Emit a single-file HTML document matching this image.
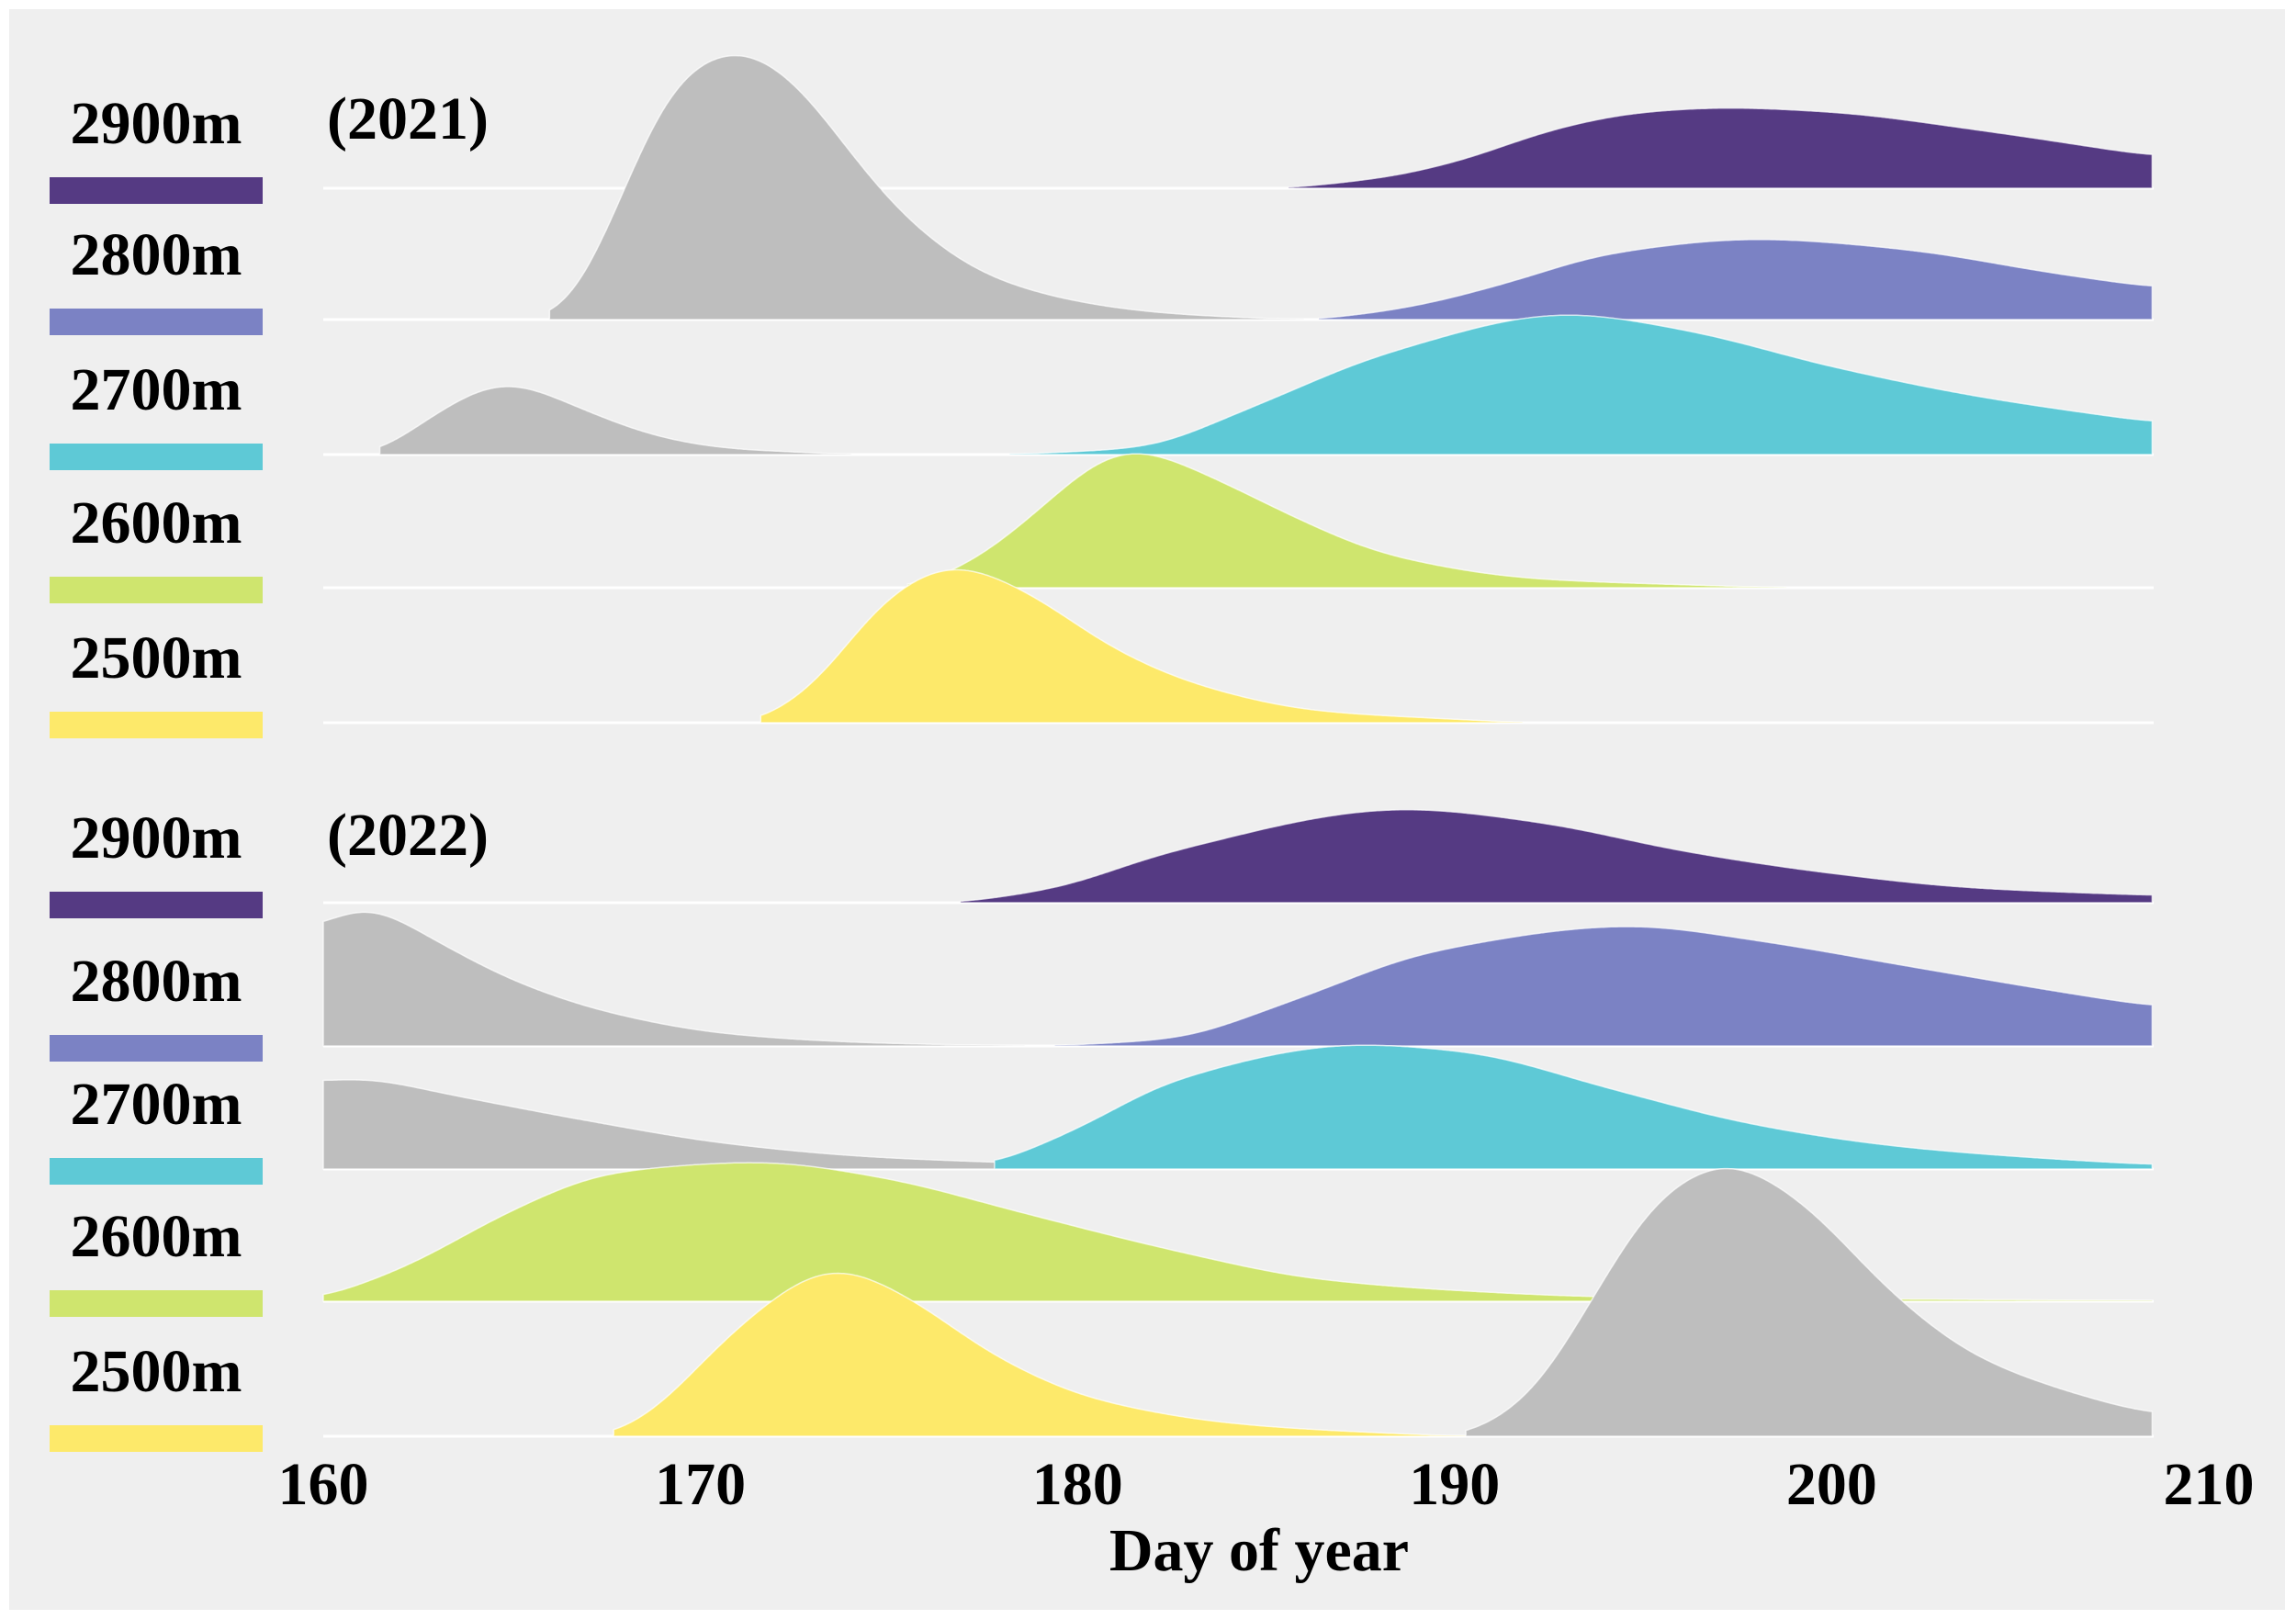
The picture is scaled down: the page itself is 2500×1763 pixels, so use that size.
<!DOCTYPE html>
<html><head><meta charset="utf-8">
<style>
html,body{margin:0;padding:0;background:#fff;}
svg{display:block;}
text{font-family:"Liberation Serif",serif;font-weight:bold;fill:#000;}
</style></head>
<body>
<svg id="chart" width="2500" height="1763" viewBox="0 0 2500 1763" xmlns="http://www.w3.org/2000/svg">
<rect x="10" y="10" width="2478" height="1743" fill="#efefef"/>
<g id="grid"></g>
<g id="ridges"></g>
<g id="legend"></g>
<g id="axis"></g>
</svg>
<script>
// ---- data ----
const tickLabels = [160, 170, 180, 190, 200, 210];
const elevations = ["2900m", "2800m", "2700m", "2600m", "2500m"];
const yearLabels = ["(2021)", "(2022)"];
// density heights (arbitrary units) sampled at [day, value]
const y2021_gray2800 = [[166,0],[166.6,8],[167,30],[168.1,95],[168.5,125],[169.7,172],[171,185],[172.4,165],[174,113],[175.5,68],[177.8,28],[180.5,10],[182.5,4],[184.8,1],[186,0]];
const y2021_purple2900 = [[185.6,0],[188.3,8],[190.3,20],[192.6,40],[195,52],[197.2,55],[200,52],[203.8,40],[208.5,22]];
const y2021_lav2800 = [[186.4,0],[188.7,8],[191.4,25],[194.1,45],[198,55],[201.9,48],[205.8,32],[208.5,22]];
const y2021_gray2700 = [[161.5,0],[163.1,30],[164.8,50],[166.95,30],[168.9,12],[170.8,4],[173.2,1],[174,0]];
const y2021_cyan2700 = [[178.2,0],[181.7,5],[184.4,30],[188.3,70],[193,96],[196.1,85],[200,60],[203.8,40],[208.5,22]];
const y2021_green2600 = [[175.5,0],[176.6,10],[177.8,28],[178.6,45],[181.4,95],[183.6,75],[185.6,50],[188.3,22],[192.2,6],[196.1,2],[198.8,0]];
const y2021_yellow2500 = [[171.6,0],[173.2,30],[174.7,80],[176.7,108],[178.6,90],[181,50],[183.3,25],[186.4,8],[190.3,2],[191.8,0]];
const y2022_purple2900 = [[176.9,0],[179.4,10],[182.5,35],[188.7,64],[192.2,55],[196.1,35],[200,20],[203.8,10],[208.5,5]];
const y2022_gray2800 = [[160,80],[160.9,97],[163.1,70],[165,45],[167.7,22],[170.8,8],[174.7,2],[178.6,0]];
const y2022_lav2800 = [[179.4,0],[182.5,5],[185.6,30],[189.5,65],[194.7,82],[198,72],[201.9,55],[205.8,38],[208.5,27]];
const y2022_gray2700 = [[160,60],[161,62],[163.1,52],[167,33],[170.8,17],[174.7,8],[178.6,4],[182.5,1],[190.3,0]];
const y2022_cyan2700 = [[177.8,3],[180.2,30],[182.5,60],[187.5,85],[190.3,80],[194.1,55],[198,30],[201.9,15],[205.8,7],[208.5,3]];
const y2022_green2600 = [[160,2],[162.3,25],[165,62],[167.7,88],[171.6,95],[174.7,85],[178.6,60],[182.5,35],[186.4,15],[190.3,7],[194.1,3],[201.9,1.5],[208.5,0.5]];
const y2022_yellow2500 = [[167.7,0],[168.9,20],[170.8,70],[173.6,115],[175.5,95],[177.8,55],[180.5,25],[184.4,8],[188.3,2],[190.3,0]];
const y2022_gray2500 = [[190.3,0],[191.9,25],[193.8,100],[195.3,160],[197.2,187],[199.2,160],[201.5,100],[203.8,55],[206.6,28],[208.5,15]];

// ---- scales ----
const xScale = d => 352 + (d - 160) * (2405 - 352) / 50;
const hScale = v => v * 1.595;
const baselines = [205, 348, 495, 640, 787, 983, 1139, 1273, 1417, 1564];
const colors = {purple:"#553a83", lav:"#7b82c4", cyan:"#5ec9d6", green:"#cfe56e", yellow:"#fde96a", gray:"#bebebe"};

const NS = "http://www.w3.org/2000/svg";
function mk(tag, attrs, parent){const e=document.createElementNS(NS,tag);for(const k in attrs)e.setAttribute(k,attrs[k]);parent.appendChild(e);return e;}

const grid=document.getElementById('grid');
baselines.forEach((b,i)=>{
  const l=mk('line',{x1:352,x2:2345,y1:b,y2:b,stroke:'#ffffff','stroke-width':3},grid);
  
  
});

function monotone(pts){
  const n=pts.length, xs=pts.map(p=>p[0]), ys=pts.map(p=>p[1]);
  const d=[], m=new Array(n);
  for(let i=0;i<n-1;i++) d.push((ys[i+1]-ys[i])/(xs[i+1]-xs[i]));
  m[0]=d[0]; m[n-1]=d[n-2];
  for(let i=1;i<n-1;i++){
    if(d[i-1]*d[i]<=0) m[i]=0;
    else { const w1=2*(xs[i+1]-xs[i])+(xs[i]-xs[i-1]), w2=(xs[i+1]-xs[i])+2*(xs[i]-xs[i-1]);
      m[i]=(w1+w2)/(w1/d[i-1]+w2/d[i]); }
  }
  return function(x){
    if(x<=xs[0]) return ys[0]; if(x>=xs[n-1]) return ys[n-1];
    let i=0; while(i<n-2 && x>xs[i+1]) i++;
    const h=xs[i+1]-xs[i], t=(x-xs[i])/h;
    const h00=2*t*t*t-3*t*t+1,h10=t*t*t-2*t*t+t,h01=-2*t*t*t+3*t*t,h11=t*t*t-t*t;
    return Math.max(0,h00*ys[i]+h10*h*m[i]+h01*ys[i+1]+h11*h*m[i+1]);
  };
}
function ridgePath(pts, base){
  const f=monotone(pts);
  const x0=pts[0][0], x1=pts[pts.length-1][0];
  const step=0.05, sigma=0.7;
  const xs=[], raw=[];
  for(let x=x0;x<=x1+1e-9;x+=step){xs.push(x);raw.push(f(x));}
  // gaussian smoothing (edge values held)
  const K=Math.ceil(3*sigma/step), w=[];
  for(let k=-K;k<=K;k++) w.push(Math.exp(-0.5*(k*step/sigma)**2));
  const sm=raw.map((_,i)=>{let s=0,ws=0;for(let k=-K;k<=K;k++){const j=Math.min(raw.length-1,Math.max(0,i+k));s+=raw[j]*w[k+K];ws+=w[k+K];}return s/ws;});
  let d=`M${xScale(x0)},${base}`;
  xs.forEach((x,i)=>{d+=` L${xScale(x).toFixed(1)},${(base-hScale(sm[i])).toFixed(1)}`;});
  d+=` L${xScale(xs[xs.length-1]).toFixed(1)},${base} Z`;
  return d;
}
const ridges=document.getElementById('ridges');
function drawRidge(pts, row, color, name){
  const p=mk('path',{d:ridgePath(pts, baselines[row]), fill:color, stroke:'#ffffff','stroke-width':1.5,'stroke-opacity':0.7},ridges);
  
  
}
drawRidge(y2021_purple2900,0,colors.purple,'ridge-2021-2900m');
drawRidge(y2021_gray2800,1,colors.gray,'ridge-2021-2800m-gray');
drawRidge(y2021_lav2800,1,colors.lav,'ridge-2021-2800m');
drawRidge(y2021_gray2700,2,colors.gray,'ridge-2021-2700m-gray');
drawRidge(y2021_cyan2700,2,colors.cyan,'ridge-2021-2700m');
drawRidge(y2021_green2600,3,colors.green,'ridge-2021-2600m');
drawRidge(y2021_yellow2500,4,colors.yellow,'ridge-2021-2500m');
drawRidge(y2022_purple2900,5,colors.purple,'ridge-2022-2900m');
drawRidge(y2022_gray2800,6,colors.gray,'ridge-2022-2800m-gray');
drawRidge(y2022_lav2800,6,colors.lav,'ridge-2022-2800m');
drawRidge(y2022_gray2700,7,colors.gray,'ridge-2022-2700m-gray');
drawRidge(y2022_cyan2700,7,colors.cyan,'ridge-2022-2700m');
drawRidge(y2022_green2600,8,colors.green,'ridge-2022-2600m');
drawRidge(y2022_yellow2500,9,colors.yellow,'ridge-2022-2500m');
drawRidge(y2022_gray2500,9,colors.gray,'ridge-2022-2500m-gray');

const legend=document.getElementById('legend');
const swatchColors=[colors.purple,colors.lav,colors.cyan,colors.green,colors.yellow];
baselines.forEach((b,i)=>{
  const t=mk('text',{x:170,y:b-49,'font-size':66,'text-anchor':'middle'},legend);
  t.textContent=elevations[i%5];
  
  
  const r=mk('rect',{x:54,y:b-12,width:232,height:29,fill:swatchColors[i%5]},legend);
  
  
});
yearLabels.forEach((yl,i)=>{
  const t=mk('text',{x:356,y:i===0?151:931,'font-size':66},legend);
  t.textContent=yl;
  
  
});

const axis=document.getElementById('axis');
tickLabels.forEach(v=>{
  const t=mk('text',{x:xScale(v),y:1638,'font-size':66,'text-anchor':'middle'},axis);
  t.textContent=v;
  
  
});
const xt=mk('text',{x:1371,y:1710,'font-size':66,'text-anchor':'middle'},axis);
xt.textContent='Day of year';


</script>
</body></html>
